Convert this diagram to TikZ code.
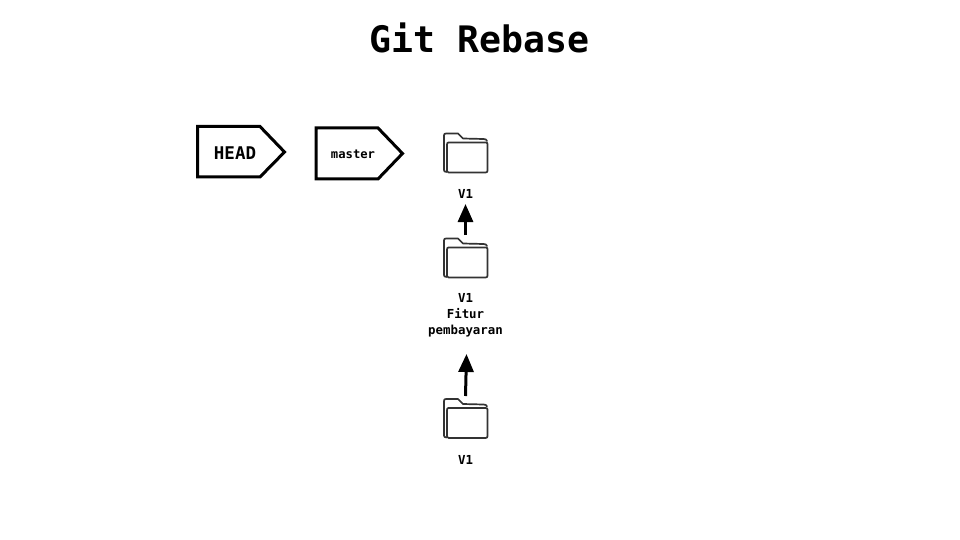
\documentclass[tikz,border=0pt]{standalone}
\usepackage{fontspec}
\setmainfont{DejaVu Sans Mono}
\usetikzlibrary{arrows.meta}
\tikzset{
  tagline/.style={draw=black,line width=3pt,line join=miter,fill=white},
  flow/.style={draw=black,line width=3pt,-{Triangle[length=18pt,width=15pt]}},
  folderline/.style={draw=black!80,line width=1.7pt,line join=round,line cap=round},
  foldernode/.style={inner sep=0pt,minimum width=45pt,minimum height=40pt},
  lab/.style={inner sep=0pt,align=center,font=\fontsize{12.4}{16}\selectfont\bfseries},
  pics/folder/.style={code={
    \draw[folderline] (-19,19) .. controls (-21,19) and (-21.5,18) .. (-21.5,17) -- (-21.5,-17.5)
       .. controls (-21.5,-19) and (-21,-19.5) .. (-19.5,-19.5) -- (-7.5,-19.5) -- (-2.5,-14.5) -- (18,-14)
       .. controls (20,-14) and (21,-13.5) .. (21.5,-12);
    \draw[folderline,fill=white] (-18.5,-8.5) .. controls (-18.5,-10) and (-18,-10.5) .. (-17,-10.5) -- (20,-10.5) .. controls (21.5,-10.5) and (22,-10) .. (22,-9) -- (22,17.5)
       .. controls (22,19) and (21.5,19.5) .. (20,19.5) -- (-17,19.5) .. controls (-18,19.5) and (-18.5,19) .. (-18.5,18) -- cycle;
  }}
}
\begin{document}
\begin{tikzpicture}[x=1pt,y=-1pt]
\useasboundingbox (0,0) rectangle (960,540);
\node[inner sep=0pt,font=\fontsize{36.5}{40}\selectfont\bfseries] (title) at (479.5,37.5) {Git Rebase};
\draw[tagline] (197.5,126.5) -- (260,126.5) -- (284.5,152) -- (260,177) -- (197.5,177) -- cycle;
\node[inner sep=0pt,font=\fontsize{17.5}{20}\selectfont\bfseries] (head) at (235,153) {HEAD};
\draw[tagline] (316,128) -- (378,128) -- (402.5,153.5) -- (378,179) -- (316,179) -- cycle;
\node[inner sep=0pt,font=\fontsize{12.2}{16}\selectfont\bfseries] (master) at (353,154.5) {master};
\node[foldernode] (f1) at (465.5,153) {};
\pic at (f1.center) {folder};
\node[lab] (l1) at (465.5,193.5) {V1};
\node[foldernode] (f2) at (465.5,258) {};
\pic at (f2.center) {folder};
\node[lab] (l2) at (465.5,315) {V1\\Fitur\\pembayaran};
\node[foldernode] (f3) at (465.5,418.5) {};
\pic at (f3.center) {folder};
\node[lab] (l3) at (465.5,460) {V1};
\coordinate (a1s) at (465.5,235);
\coordinate (a1e) at (465.5,204);
\coordinate (a2s) at (465.5,396);
\coordinate (a2e) at (466.5,354);
\draw[flow] (a1s) -- (a1e);
\draw[flow] (a2s) -- (a2e);
\end{tikzpicture}
\end{document}
